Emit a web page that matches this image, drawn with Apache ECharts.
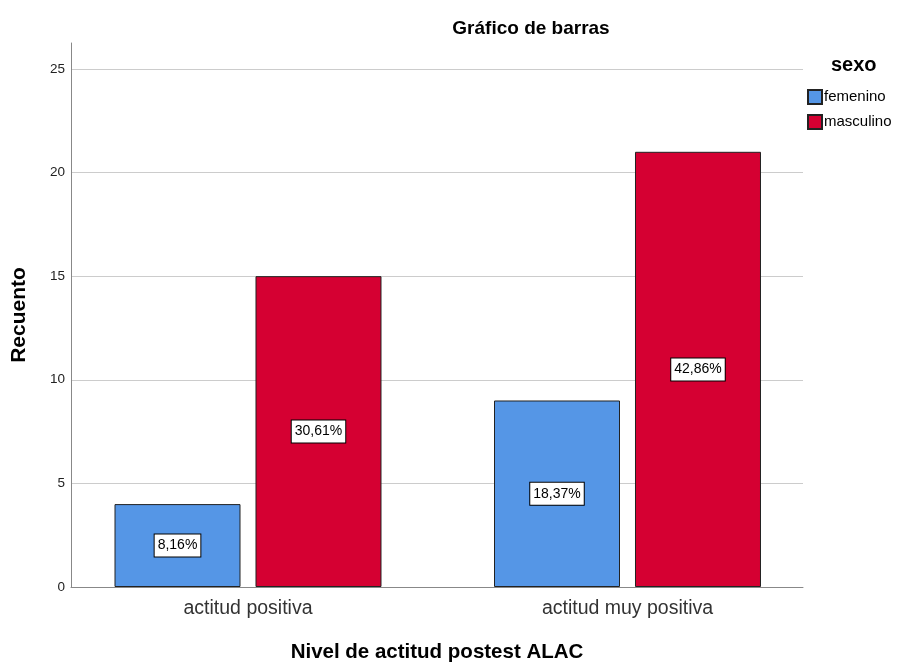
<!DOCTYPE html>
<html>
<head>
<meta charset="utf-8">
<script src="https://cdn.jsdelivr.net/npm/echarts@6/dist/echarts.min.js"></script>
<style>
html,body{margin:0;padding:0;background:#fff;}
#chart{width:901px;height:664px;}
</style>
</head>
<body>
<div id="chart"></div>
<script>
const categories = ['actitud positiva', 'actitud muy positiva'];
const femenino = [4, 9];
const masculino = [15, 21];
const femeninoPct = ['8,16%', '18,37%'];
const masculinoPct = ['30,61%', '42,86%'];
const yTicks = [0, 5, 10, 15, 20, 25];

const FONT = '"Liberation Sans", Arial, sans-serif';
const chart = echarts.init(document.getElementById('chart'), null, {renderer: 'canvas'});

function labelCfg(pcts) {
  return {
    show: true,
    position: 'inside',
    formatter: p => pcts[p.dataIndex],
    color: '#000',
    fontFamily: FONT,
    fontSize: 14,
    backgroundColor: '#fff',
    borderColor: '#000',
    borderWidth: 1,
    padding: [5, 3, 3, 3]
  };
}

chart.setOption({
  animation: false,
  backgroundColor: '#fff',
  title: {
    text: 'Gráfico de barras',
    left: 526, top: 14,
    textAlign: 'center',
    textStyle: {fontFamily: FONT, fontSize: 19, fontWeight: 'bold', color: '#000'}
  },
  legend: {
    orient: 'vertical',
    left: 802, top: 83,
    itemWidth: 14, itemHeight: 14, itemGap: 7,
    icon: 'rect',
    textStyle: {fontFamily: FONT, fontSize: 15, lineHeight: 16, color: '#000', padding: [2, 0, 0, -3]},
    data: ['femenino', 'masculino']
  },
  graphic: [{
    type: 'text', left: 831, top: 55,
    style: {text: 'sexo', font: 'bold 20px ' + FONT, fill: '#000'}
  }],
  grid: [
    {left: 71, right: 98, top: 43, bottom: 77, outerBoundsMode: 'none', containLabel: false},
    {left: 58.25, right: 83.75, top: 43, bottom: 77, outerBoundsMode: 'none', containLabel: false}
  ],
  xAxis: [
    {
      type: 'category',
      gridIndex: 0,
      data: categories,
      name: 'Nivel de actitud postest ALAC',
      nameLocation: 'middle',
      nameGap: 55,
      nameTextStyle: {fontFamily: FONT, fontSize: 20.5, fontWeight: 'bold', color: '#000'},
      axisLine: {lineStyle: {color: '#888', width: 1}},
      axisTick: {show: false},
      axisLabel: {show: false}
    },
    {
      type: 'category',
      gridIndex: 1,
      data: categories,
      axisLine: {show: false},
      axisTick: {show: false},
      axisLabel: {fontFamily: FONT, fontSize: 19.5, color: '#333', margin: 12}
    }
  ],
  yAxis: [
    {
      type: 'value',
      gridIndex: 0,
      min: 0, max: 26.25, interval: 5,
      name: 'Recuento',
      nameLocation: 'middle',
      nameGap: 41,
      nameTextStyle: {fontFamily: FONT, fontSize: 21, fontWeight: 'bold', color: '#000'},
      axisLine: {show: true, lineStyle: {color: '#888', width: 1}},
      axisTick: {show: false},
      axisLabel: {
        fontFamily: FONT, fontSize: 13.5, color: '#222', margin: 6,
        showMaxLabel: false,
        formatter: v => (yTicks.indexOf(v) >= 0 ? String(v) : '')
      },
      splitLine: {show: true, showMaxLine: false, lineStyle: {color: '#cccccc', width: 1}}
    },
    {
      type: 'value',
      gridIndex: 1,
      min: 0, max: 26.25, interval: 5,
      show: false,
      splitLine: {show: false}
    }
  ],
  series: [
    {
      name: 'femenino', type: 'bar', data: femenino,
      xAxisIndex: 1, yAxisIndex: 1,
      barWidth: 126, barGap: '11.9%',
      itemStyle: {color: '#5596e6', borderColor: '#222', borderWidth: 1},
      label: labelCfg(femeninoPct)
    },
    {
      name: 'masculino', type: 'bar', data: masculino,
      xAxisIndex: 1, yAxisIndex: 1,
      barWidth: 126,
      itemStyle: {color: '#d50032', borderColor: '#222', borderWidth: 1},
      label: labelCfg(masculinoPct)
    }
  ]
});
</script>
</body>
</html>
